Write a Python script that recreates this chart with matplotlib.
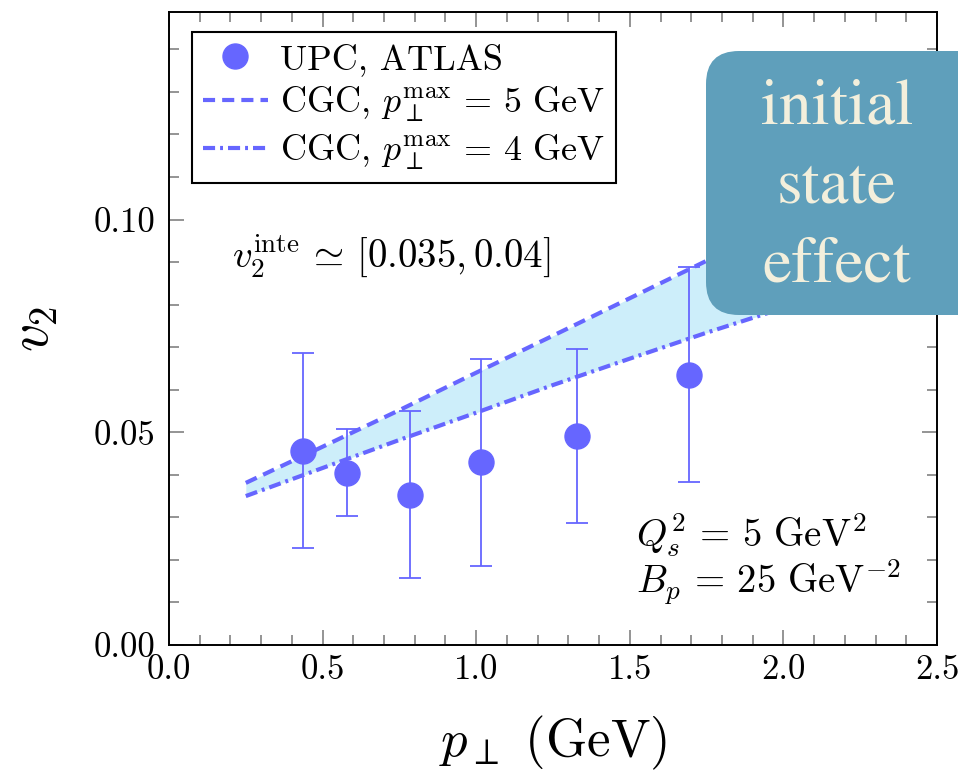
import numpy as np
import matplotlib.pyplot as plt
from matplotlib.patches import FancyBboxPatch

plt.rcParams['font.family'] = 'serif'
plt.rcParams['font.serif'] = ['cmr10']
plt.rcParams['mathtext.fontset'] = 'cm'
plt.rcParams['axes.formatter.use_mathtext'] = True
plt.rcParams['axes.unicode_minus'] = False

# ATLAS UPC data
pt = [0.436, 0.578, 0.784, 1.016, 1.327, 1.694]
v2 = [0.0457, 0.0405, 0.0353, 0.0429, 0.0491, 0.0635]
v2_err = [0.0230, 0.0102, 0.0196, 0.0243, 0.0205, 0.0253]

# CGC band
band_pt = [0.25, 0.5, 0.75, 1.0, 1.25, 1.5, 1.75, 2.0]
cgc_5 = [0.0381, 0.0466, 0.0552, 0.0640, 0.0727, 0.0815, 0.0903, 0.0991]
cgc_4 = [0.0350, 0.0416, 0.0482, 0.0546, 0.0611, 0.0673, 0.0734, 0.0792]

col = '#6666ff'
fs = 28

fig = plt.figure(figsize=(9.58, 7.75), dpi=100)
ax = fig.add_axes([169/958, 130/775, 768/958, 632.7/775])

ax.fill_between(band_pt, cgc_4, cgc_5, color='#cdeefa', lw=0, zorder=1)
ax.plot(band_pt, cgc_5, color=col, lw=3, dashes=(2.9, 1.7), zorder=2,
        label=r'CGC, $p_\perp^{\rm max} \,=\, 5\ {\rm GeV}$')
ax.plot(band_pt, cgc_4, color=col, lw=3, dashes=(2.9, 1.2, 0.7, 1.2), zorder=2,
        label=r'CGC, $p_\perp^{\rm max} \,=\, 4\ {\rm GeV}$')
ax.errorbar(pt, v2, yerr=v2_err, fmt='none', ecolor=col, elinewidth=1.3,
            capsize=8, capthick=1.3, zorder=3)
ax.plot(pt, v2, 'o', color=col, ms=18, zorder=4, label='UPC, ATLAS')

ax.set_xlim(0, 2.5)
ax.set_ylim(0, 0.1487)
ax.set_xticks([0.0, 0.5, 1.0, 1.5, 2.0, 2.5])
ax.set_xticklabels(['0.0', '0.5', '1.0', '1.5', '2.0', '2.5'])
ax.set_xticks(np.arange(0, 2.51, 0.1), minor=True)
ax.set_yticks([0.0, 0.05, 0.10])
ax.set_yticklabels(['0.00', '0.05', '0.10'])
ax.set_yticks(np.arange(0, 0.149, 0.01), minor=True)
ax.tick_params(which='both', direction='in', top=True, right=True,
               color='#777777', width=1.1, labelsize=25)
ax.tick_params(which='major', length=11)
ax.tick_params(which='minor', length=7.5)
ax.tick_params(axis='x', pad=7)
ax.tick_params(axis='y', pad=10)
for s in ax.spines.values():
    s.set_linewidth(1.4)

ax.set_xlabel(r'$p_\perp\ ({\rm GeV})$', fontsize=38, labelpad=20)
ax.set_ylabel(r'$v_2$', fontsize=40, labelpad=24)

h, l = ax.get_legend_handles_labels()
order = [2, 0, 1]
leg = ax.legend([h[i] for i in order], [l[i] for i in order], loc='upper left',
                bbox_to_anchor=(0.0296, 0.969), borderaxespad=0, fontsize=26,
                fancybox=False, framealpha=1, edgecolor='black',
                handlelength=1.8, handletextpad=0.35, labelspacing=0.25,
                borderpad=0.3, markerscale=1)
leg.get_frame().set_linewidth(1.5)

ax.text(0.205, 0.0886, r'$v_2^{\rm inte} \,\simeq\, [0.035, 0.04]$', fontsize=fs,
        va='baseline', ha='left')
ax.text(1.52, 0.0231, r'$Q_s^2 \,=\, 5\ {\rm GeV}^2$', fontsize=fs,
        va='baseline', ha='left')
ax.text(1.52, 0.0122, r'$B_p \,=\, 25\ {\rm GeV}^{-2}$', fontsize=fs,
        va='baseline', ha='left')

box = FancyBboxPatch((7.06, 4.60), 3.0, 2.64,
                     boxstyle='round,pad=0,rounding_size=0.33',
                     transform=fig.dpi_scale_trans, facecolor='#5f9fbb',
                     edgecolor='none', zorder=10, clip_on=False)
fig.patches.append(box)
fig.text(8.37 / 9.58, 5.88 / 7.75, 'initial\nstate\neffect', ha='center',
         va='center', fontsize=47, family='STIXGeneral',
         color='#f3efdc', linespacing=1.45, zorder=11)

fig.savefig('out.png', dpi=100)
